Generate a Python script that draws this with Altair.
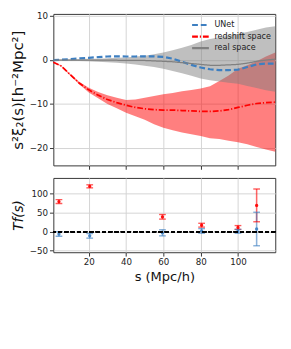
import altair as alt
import pandas as pd

# ---- top panel data ----
s = [1, 5, 10, 15, 20, 25, 30, 35, 40, 45, 50, 55, 60, 65, 70, 75, 80, 85, 90, 95, 100, 105, 110, 115, 120]
unet = [0, 0.05, 0.2, 0.35, 0.5, 0.65, 0.8, 0.85, 0.8, 0.8, 0.85, 0.85, 0.7, 0.3, -0.4, -1.1, -1.7, -2.1, -2.3, -2.3, -2.2, -1.6, -1.0, -0.8, -0.8]
redshift = [-0.5, -1.3, -3.3, -5.3, -6.8, -8.0, -9.0, -9.7, -10.3, -10.8, -11.1, -11.3, -11.4, -11.4, -11.5, -11.6, -11.7, -11.7, -11.6, -11.3, -10.8, -10.3, -9.9, -9.7, -9.6]
red_hi = [-0.4, -1.2, -3.1, -5.0, -6.3, -7.3, -8.0, -8.6, -9.1, -9.0, -8.6, -8.2, -7.8, -7.5, -7.1, -6.8, -6.5, -6.0, -4.8, -3.5, -2.0, -1.2, -0.3, 0.8, 1.7]
red_lo = [-0.6, -1.4, -3.5, -5.6, -7.4, -8.7, -10.0, -11.0, -12.0, -12.8, -13.6, -14.6, -15.4, -16.0, -16.5, -16.9, -17.3, -17.8, -18.0, -18.4, -18.7, -19.2, -19.8, -20.4, -20.9]
real = [0, 0, 0, 0, 0, 0, -0.05, -0.05, -0.1, -0.1, -0.1, -0.2, -0.3, -0.4, -0.6, -0.8, -1.0, -1.2, -1.2, -1.1, -1.0, -0.7, -0.3, 0.0, 0.2]
gray_hi = [0, 0.1, 0.15, 0.2, 0.3, 0.3, 0.4, 0.5, 0.6, 0.8, 1.0, 1.3, 1.7, 2.2, 2.8, 3.4, 4.2, 4.8, 5.2, 5.6, 6.0, 6.4, 6.9, 7.4, 7.7]
gray_lo = [0, -0.1, -0.15, -0.2, -0.3, -0.4, -0.5, -0.6, -0.8, -1.0, -1.3, -1.6, -2.0, -2.5, -3.0, -3.6, -4.2, -4.6, -4.9, -5.2, -5.4, -5.9, -6.4, -6.9, -7.2]

series_names = ["UNet", "redshift space", "real space"]
series_colors = ["#3d7fc1", "red", "#808080"]

# ---- bottom panel data ----
pts_x = [4, 20.5, 59.5, 80.5, 100, 110]
red_T = [79, 119, 39, 17, 11, 69]
red_err = [5, 4, 6, 5, 5, 43]
blue_T = [-6, -11, -3, 2, 1, 7]
blue_err = [6, 6, 8, 6, 5, 44]

xdom = [1, 120]
xticks = [20, 40, 60, 80, 100]

lines = pd.DataFrame({
    "s": s * 3,
    "v": unet + redshift + real,
    "series": [series_names[0]] * len(s) + [series_names[1]] * len(s) + [series_names[2]] * len(s),
})
bands = pd.DataFrame({"s": s, "rlo": red_lo, "rhi": red_hi, "glo": gray_lo, "ghi": gray_hi})

xs_top = alt.X("s:Q", scale=alt.Scale(domain=xdom, nice=False, zero=False),
               axis=alt.Axis(values=xticks, labels=False, title=None))
ys_top = alt.Y("v:Q", scale=alt.Scale(domain=[-24, 10.5], nice=False),
               axis=alt.Axis(values=[-20, -15, -10, -5, 0, 5, 10], labelOverlap=False,
                             title="s²ξ₂(s)[h⁻²Mpc²]", titleFontSize=15.5, titleFontWeight="normal"))

red_band = alt.Chart(bands).mark_area(color="#ff0000", opacity=0.5).encode(
    x=xs_top, y=alt.Y("rlo:Q"), y2="rhi:Q")
gray_band = alt.Chart(bands).mark_area(color="#808080", opacity=0.5).encode(
    x=xs_top, y=alt.Y("glo:Q"), y2="ghi:Q")

leg = alt.Legend(title=None, orient="top-right", symbolType="M-1.45,0H1.45", symbolStrokeWidth=2.2,
                 symbolSize=144, labelFontSize=8.3, labelColor="#222", offset=2, padding=2,
                 rowPadding=0, labelOffset=7)
line_layer = alt.Chart(lines).mark_line().encode(
    x=xs_top,
    y=ys_top,
    color=alt.Color("series:N", scale=alt.Scale(domain=series_names, range=series_colors), legend=leg),
    strokeDash=alt.StrokeDash("series:N", scale=alt.Scale(domain=series_names,
                                                          range=[[6, 3], [6, 2, 1.2, 2], [1, 0]]),
                              legend=leg),
    strokeWidth=alt.StrokeWidth("series:N", scale=alt.Scale(domain=series_names, range=[2.3, 1.3, 1.5]),
                                legend=None),
    order=alt.Order("s:Q"),
)

top = alt.layer(red_band, gray_band, line_layer).properties(width=230, height=157)

pts = pd.DataFrame({
    "s": pts_x * 2,
    "T": red_T + blue_T,
    "err": red_err + blue_err,
    "grp": ["red"] * len(pts_x) + ["blue"] * len(pts_x),
})

ybot_axis = alt.Axis(values=[-50, 0, 50, 100], labelOverlap=False, title="Tf(s)",
                     titleFontSize=14, titleFontWeight="normal", titleFontStyle="italic")
ybot_scale = alt.Scale(domain=[-54, 141], nice=False)
xs_bot = alt.X("s:Q", scale=alt.Scale(domain=xdom, nice=False, zero=False),
               axis=alt.Axis(values=xticks, title="s (Mpc/h)", titleFontSize=13.5,
                             titleFontWeight="normal", titlePadding=3))
ys_bot = alt.Y("lo:Q", scale=ybot_scale, axis=ybot_axis)
gcolor = alt.Color("grp:N", scale=alt.Scale(domain=["red", "blue"], range=["red", "#3d7fc1"]), legend=None)

base = alt.Chart(pts).transform_calculate(lo="datum.T - datum.err", hi="datum.T + datum.err")
zero = alt.Chart(pts).mark_rule(color="black", strokeDash=[4, 2.5], strokeWidth=1.5).encode(
    y=alt.Y(datum=0, scale=ybot_scale, axis=ybot_axis))
rules = base.mark_rule(strokeWidth=1.6, opacity=0.6).encode(x=xs_bot, y=ys_bot, y2="hi:Q", color=gcolor)
cap_lo = base.mark_tick(thickness=1.4, size=7, opacity=0.65, orient="horizontal").encode(
    x=xs_bot, y=ys_bot, color=gcolor)
cap_hi = base.mark_tick(thickness=1.4, size=7, opacity=0.65, orient="horizontal").encode(
    x=xs_bot, y=alt.Y("hi:Q", scale=ybot_scale, axis=ybot_axis), color=gcolor)
dots = base.mark_circle(size=12, opacity=0.9).encode(
    x=xs_bot, y=alt.Y("T:Q", scale=ybot_scale, axis=ybot_axis), color=gcolor)

bottom = alt.layer(rules, cap_lo, cap_hi, dots, zero).properties(width=230, height=77)

chart = alt.vconcat(top, bottom, spacing=7).resolve_scale(
    color="independent", strokeDash="independent"
).properties(
    padding={"left": 2, "top": -2, "right": 2, "bottom": 2}
).configure_axis(
    grid=True, gridColor="#d3d3d3", gridWidth=1, labelFontSize=9, labelColor="#222",
    tickColor="#333", tickSize=4, labelPadding=2, domain=False, titleColor="#111",
    labelFont="DejaVu Sans", titleFont="DejaVu Sans", labelOverlap=False,
).configure_view(stroke="#333", strokeWidth=1).configure_legend(labelFont="DejaVu Sans")

chart.save("out.html", embed_options={"renderer": "svg", "actions": False})
